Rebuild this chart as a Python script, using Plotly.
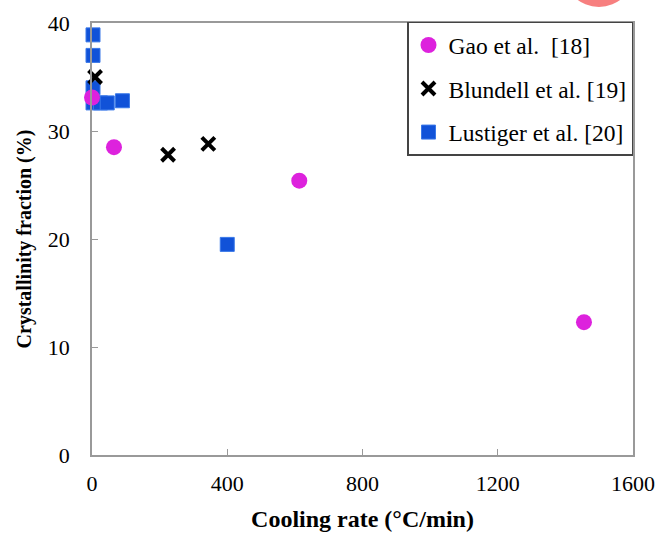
import plotly.graph_objects as go

gao_x = [0, 65, 613, 1455]
gao_y = [33.1, 28.5, 25.4, 12.3]

blundell_x = [9, 225, 344, 1271]
blundell_y = [35.0, 27.8, 28.8, -0.2]

lustiger_x = [3, 3, 3, 3, 25, 45, 90, 400]
lustiger_y = [38.9, 37.0, 34.0, 32.6, 32.6, 32.6, 32.8, 19.5]

x_ticks = [0, 400, 800, 1200, 1600]
y_ticks = [0, 10, 20, 30, 40]

font_family = "Liberation Serif, Times New Roman, serif"

fig = go.Figure()
fig.add_trace(go.Scatter(
    x=lustiger_x, y=lustiger_y, mode="markers", name="Lustiger et al. [20]",
    legendgroup="c", legendrank=3,
    marker=dict(symbol="square", size=14, color="#1152d8",
                line=dict(color="#3a78e8", width=1)),
    cliponaxis=False))
fig.add_trace(go.Scatter(
    x=blundell_x, y=blundell_y, mode="markers", name="Blundell et al. [19]",
    legendgroup="b", legendrank=2,
    marker=dict(symbol="x-thin", size=13, color="black",
                line=dict(color="black", width=4)),
    cliponaxis=False))
fig.add_trace(go.Scatter(
    x=gao_x, y=gao_y, mode="markers", name="Gao et al.&nbsp; [18]",
    legendgroup="a", legendrank=1,
    marker=dict(symbol="circle", size=16, color="#dd22dd"),
    cliponaxis=False))

fig.update_layout(
    width=658, height=534,
    margin=dict(l=92, r=25, t=23, b=79),
    plot_bgcolor="white", paper_bgcolor="white",
    font=dict(family=font_family, size=22, color="black"),
    showlegend=True,
    legend=dict(x=1.0, y=1.003, xanchor="right", yanchor="top",
                bgcolor="white", bordercolor="#444", borderwidth=1.5,
                font=dict(family=font_family, size=23.5, color="black"),
                tracegroupgap=10, itemwidth=30),
    xaxis=dict(range=[0, 1600], tickvals=x_ticks, ticks="inside", ticklen=6,
               tickcolor="#999", showline=True, linecolor="#999", linewidth=1.5,
               mirror=True, showgrid=False, zeroline=False, automargin=False,
               ticklabelstandoff=8,
               tickfont=dict(family=font_family, size=22),
               title=dict(text="<b>Cooling rate (°C/min)</b>", standoff=15,
                          font=dict(family=font_family, size=24))),
    yaxis=dict(range=[0, 40], tickvals=y_ticks, ticks="inside", ticklen=6,
               tickcolor="#999", showline=True, linecolor="#999", linewidth=1.5,
               mirror=True, showgrid=False, zeroline=False, automargin=False,
               ticklabelstandoff=16,
               tickfont=dict(family=font_family, size=22),
               title=dict(text="<b>Crystallinity fraction (%)</b>", standoff=11,
                          font=dict(family=font_family, size=20))),
)

fig.add_shape(type="circle", xref="paper", yref="paper",
              x0=0.872, x1=1.002, y0=1.037, y1=1.199,
              fillcolor="#f77f7f", line=dict(width=0), layer="above")

fig.write_html("out.html",
               config={"displayModeBar": False},
               post_script="document.body.style.margin='0';")
